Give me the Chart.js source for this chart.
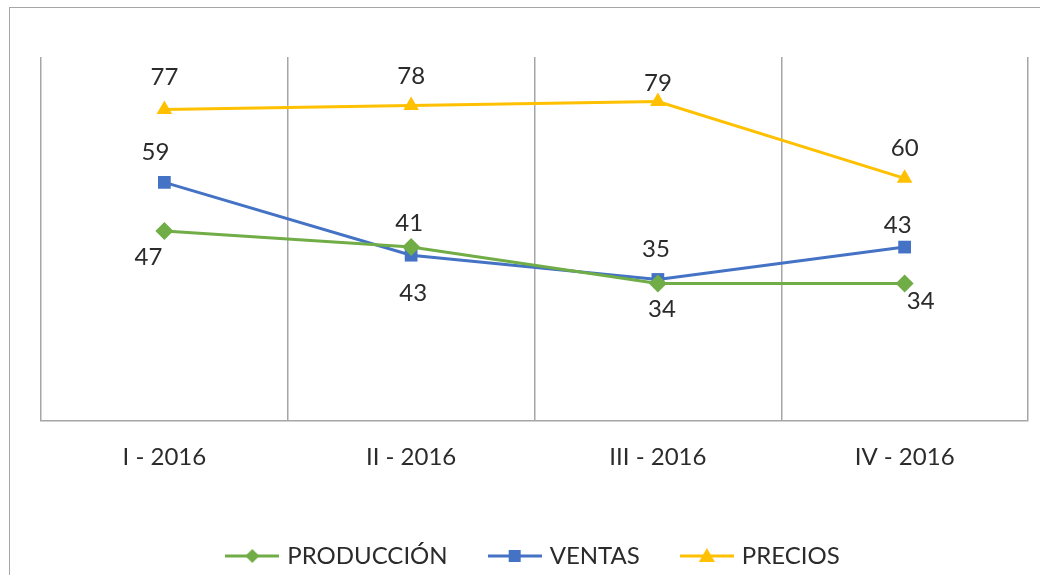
<!DOCTYPE html>
<html>
<head>
<meta charset="utf-8">
<script src="https://cdn.jsdelivr.net/npm/chart.js@4"></script>
<style>
  body { margin: 0; background: #fff; }
  #wrap { position: relative; width: 1040px; height: 575px; overflow: hidden; }
  #frame { position: absolute; left: 9px; top: 7px; width: 1100px; height: 700px; border: 1.5px solid #a6a6a6; }
  canvas { position: absolute; left: 0; top: 0; }
</style>
</head>
<body>
<div id="wrap">
  <div id="frame"></div>
  <canvas id="chart" width="1040" height="575"></canvas>
</div>
<script>
const quarters = ['I - 2016', 'II - 2016', 'III - 2016', 'IV - 2016'];
const produccion = [47, 43, 34, 34];
const ventas = [59, 41, 35, 43];
const precios = [77, 78, 79, 60];

const GREEN = '#70AD47';
const BLUE = '#4472C4';
const GOLD = '#FFC000';
const FONT = 'Lato';

// where each value label sits relative to its point (Excel placed some by hand)
const labelOffsets = [
  [[-16, 26], [2, 46], [4, 26], [16, 18]],
  [[-9, -30], [-2, -32], [-2, -30], [-7, -22]],
  [[0, -32], [0, -29], [0, -18], [0, -30]]
];

// legend icon: short line with the marker in the middle
function legendIcon(color, style) {
  const c = document.createElement('canvas');
  c.width = 54; c.height = 20;
  const g = c.getContext('2d');
  g.strokeStyle = color;
  g.lineWidth = 3;
  g.beginPath(); g.moveTo(0, 10); g.lineTo(54, 10); g.stroke();
  g.fillStyle = color;
  g.beginPath();
  if (style === 'rectRot') {
    g.moveTo(27 - 7, 10); g.lineTo(27, 17); g.lineTo(34, 10); g.lineTo(27, 3);
  } else if (style === 'rect') {
    g.rect(21, 4, 12, 12);
  } else {
    g.moveTo(27, 2); g.lineTo(35, 16); g.lineTo(19, 16);
  }
  g.closePath();
  g.fill();
  return c;
}

const valueLabels = {
  id: 'valueLabels',
  afterDatasetsDraw(chart) {
    const ctx = chart.ctx;
    ctx.save();
    ctx.font = '24px ' + FONT;
    ctx.fillStyle = '#2b2b2b';
    ctx.textAlign = 'center';
    ctx.textBaseline = 'middle';
    chart.data.datasets.forEach((ds, i) => {
      const meta = chart.getDatasetMeta(i);
      meta.data.forEach((pt, j) => {
        const [dx, dy] = labelOffsets[i][j];
        ctx.fillText(ds.data[j], pt.x + dx, pt.y + dy);
      });
    });
    ctx.restore();
  }
};

function series(label, data, color, style) {
  return {
    label: label,
    data: data,
    borderColor: color,
    backgroundColor: color,
    borderWidth: 3,
    pointStyle: style,
    pointRadius: 9,
    pointBorderWidth: 0,
    pointHoverRadius: 9,
    tension: 0,
    icon: legendIcon(color, style)
  };
}

new Chart(document.getElementById('chart'), {
  type: 'line',
  data: {
    labels: quarters,
    datasets: [
      series('PRODUCCIÓN', produccion, GREEN, 'rectRot'),
      series('VENTAS', ventas, BLUE, 'rect'),
      series('PRECIOS', precios, GOLD, 'triangle')
    ]
  },
  options: {
    responsive: false,
    animation: false,
    layout: { padding: { top: 57, left: 41, right: 12, bottom: -3 } },
    scales: {
      x: {
        offset: true,
        grid: { offset: true, color: '#a6a6a6', lineWidth: 1.5, drawTicks: false },
        border: { display: true, color: '#a6a6a6', width: 1.5 },
        ticks: { color: '#2b2b2b', font: { family: FONT, size: 24 }, padding: 22 },
        afterFit: (scale) => { scale.height = 79; }
      },
      y: { display: false, min: 0, max: 90 }
    },
    plugins: {
      legend: {
        position: 'bottom',
        labels: {
          usePointStyle: true,
          pointStyleWidth: 46,
          padding: 44,
          color: '#2b2b2b',
          font: { family: FONT, size: 24 },
          generateLabels: (chart) => chart.data.datasets.map((ds, i) => ({
            text: ds.label,
            pointStyle: ds.icon,
            fillStyle: ds.borderColor,
            strokeStyle: ds.borderColor,
            lineWidth: 0,
            fontColor: '#2b2b2b',
            datasetIndex: i,
            hidden: false
          }))
        }
      },
      tooltip: { enabled: false }
    }
  },
  plugins: [valueLabels]
});
</script>
</body>
</html>
